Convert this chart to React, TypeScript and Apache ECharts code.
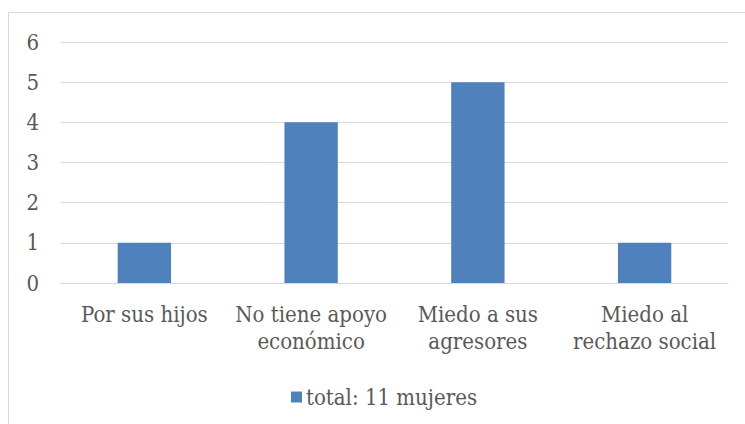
import React, { useEffect, useRef } from "react";
import * as echarts from "echarts";

const categories = ["Por sus hijos", "No tiene apoyo\neconómico", "Miedo a sus\nagresores", "Miedo al\nrechazo social"];
const seriesName = "total: 11 mujeres";
const values = [1, 4, 5, 1];

const FONT = "DejaVu Serif Condensed";

export default function App() {
  const ref = useRef<HTMLDivElement>(null);
  useEffect(() => {
    const chart = echarts.init(ref.current!, undefined, { renderer: "svg" });
    chart.setOption({
      animation: false,
      backgroundColor: "#ffffff",
      textStyle: { fontFamily: FONT },
      graphic: [
        {
          type: "rect",
          shape: { x: 8.5, y: 12.5, width: 760, height: 430 },
          style: { fill: "none", stroke: "#d9d9d9", lineWidth: 1 },
          silent: true,
        },
      ],
      grid: { left: 61, right: 17, top: 42, bottom: 141, containLabel: false },
      legend: {
        top: 381,
        left: 286,
        itemWidth: 11,
        itemHeight: 11,
        itemGap: 4,
        icon: "rect",
        textStyle: { fontFamily: FONT, fontSize: 22, color: "#595959", padding: [0, 0, 0, -1] },
        data: [seriesName],
      },
      xAxis: {
        type: "category",
        data: categories,
        axisLine: { show: true, lineStyle: { color: "#d9d9d9", width: 1 } },
        axisTick: { show: false },
        axisLabel: {
          fontFamily: FONT,
          fontSize: 22,
          color: "#595959",
          lineHeight: 27,
          margin: 18,
          interval: 0,
        },
      },
      yAxis: {
        type: "value",
        min: 0,
        max: 6,
        interval: 1,
        axisLine: { show: false },
        axisTick: { show: false },
        splitLine: { lineStyle: { color: "#d9d9d9", width: 1 } },
        axisLabel: { fontFamily: FONT, fontSize: 22, color: "#595959", margin: 22 },
      },
      series: [
        {
          name: seriesName,
          type: "bar",
          data: values,
          barWidth: "32%",
          itemStyle: { color: "#4f81bd" },
        },
      ],
    });
    return () => chart.dispose();
  }, []);
  return <div ref={ref} style={{ position: "absolute", left: 0, top: 0, width: 745, height: 424 }} />;
}
